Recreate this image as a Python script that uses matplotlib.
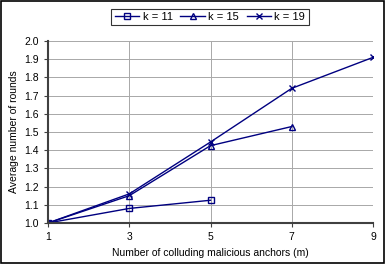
import matplotlib
matplotlib.use("Agg")
import matplotlib.pyplot as plt

plt.rcParams['font.family'] = ['Liberation Sans', 'DejaVu Sans']

# data
x11 = [1, 3, 5]
y11 = [1.0, 1.08, 1.125]
x15 = [1, 3, 5, 7]
y15 = [1.0, 1.15, 1.425, 1.53]
x19 = [1, 3, 5, 7, 9]
y19 = [1.0, 1.16, 1.445, 1.74, 1.91]

navy = "#000080"
W, H = 386, 264

fig = plt.figure(figsize=(W / 100, H / 100), dpi=100)
ax = fig.add_axes([48 / W, 1 - 223 / H, (373 - 48) / W, (223 - 41) / H])

ax.plot(x11, y11, color=navy, lw=1, marker="s", ms=5, mfc="none", mec=navy, label="k = 11")
ax.plot(x15, y15, color=navy, lw=1, marker="^", ms=5, mfc="none", mec=navy, label="k = 15")
ax.plot(x19, y19, color=navy, lw=1, marker="x", ms=5, mec=navy, label="k = 19")

ax.set_xlim(1, 9)
ax.set_ylim(1.0, 2.0)
ax.set_xticks([1, 3, 5, 7, 9])
ax.set_yticks([1.0 + i * 0.1 for i in range(11)])
ax.set_yticklabels([f"{1.0 + i * 0.1:.1f}" for i in range(11)])
ax.grid(True, color="#a8a8a8", lw=0.7)
ax.tick_params(labelsize=7.5, length=3, direction="out", color="#404040")
for s in ["top", "right"]:
    ax.spines[s].set_visible(False)
ax.spines["left"].set_color("#404040")
ax.spines["bottom"].set_color("#404040")
ax.spines["left"].set_linewidth(1.5)
ax.spines["bottom"].set_linewidth(1.5)

ax.set_xlabel("Number of colluding malicious anchors (m)", fontsize=7.5)
ax.set_ylabel("Average number of rounds", fontsize=7.5)

leg = fig.legend(loc="center", bbox_to_anchor=(210 / W, 1 - 17 / H), ncol=3, fontsize=8,
                 frameon=True, fancybox=False, edgecolor="black", handlelength=2.2,
                 columnspacing=0.7, handletextpad=0.3, borderpad=0.3)
leg.get_frame().set_linewidth(0.8)

# outer chart border
fig.add_artist(plt.Rectangle((0.003, 0.004), 0.992, 0.992, transform=fig.transFigure,
                             fill=False, edgecolor="black", lw=1.2))

fig.savefig("out.png", dpi=100)
